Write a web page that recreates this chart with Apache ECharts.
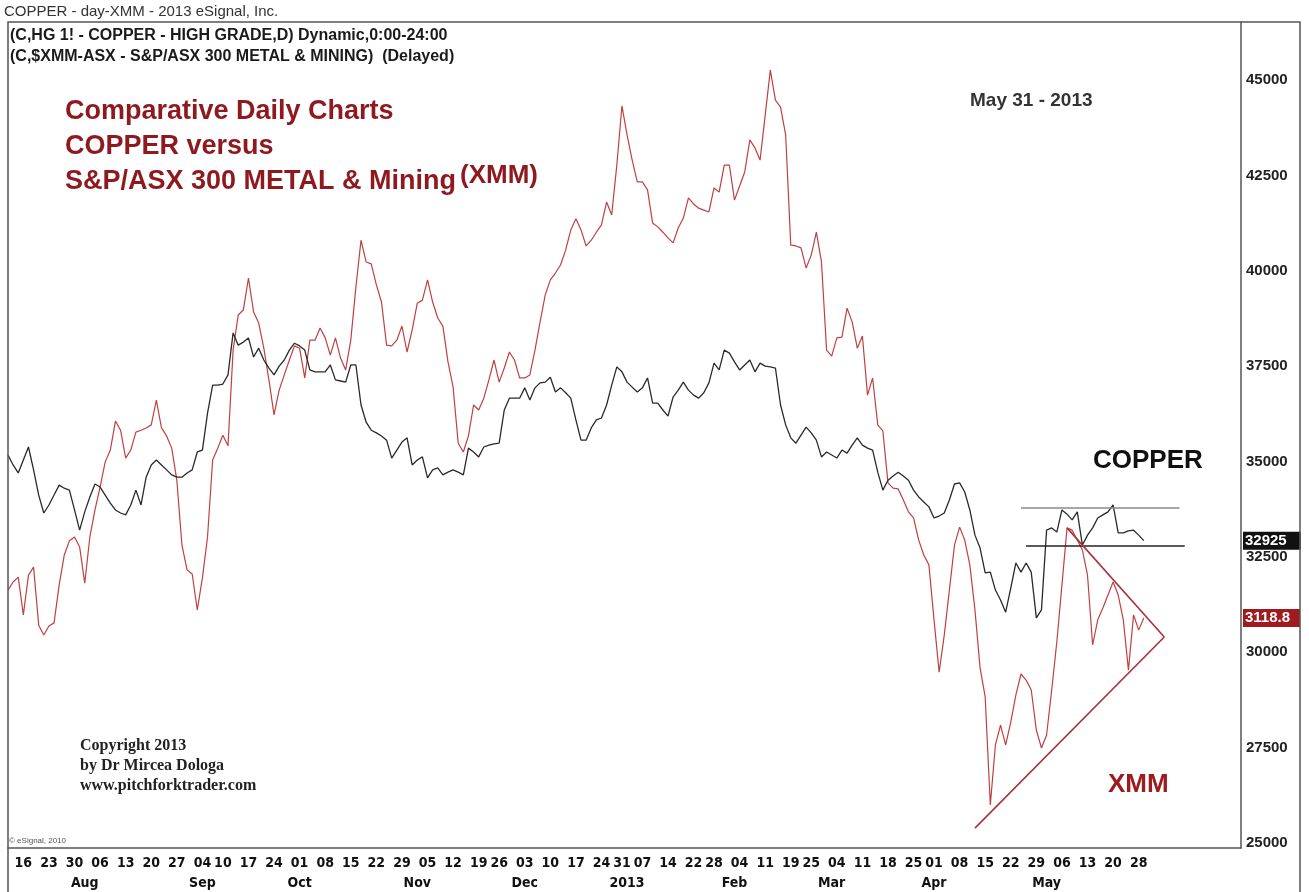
<!DOCTYPE html>
<html><head><meta charset="utf-8">
<script src="https://cdn.jsdelivr.net/npm/echarts@6/dist/echarts.min.js"></script>
<style>html,body{margin:0;padding:0;background:#fff}#c{width:1309px;height:892px}</style>
</head><body><div id="c"></div>
<script>
// ---- calendar ----
const startDate = '2012-07-11';
const totalDays = 242;
const holidays = ['2012-09-03','2012-11-22','2012-12-25','2013-01-01','2013-01-21','2013-02-18','2013-03-29','2013-05-27'];
// ---- tick labels ----
const dayTicks = ['2012-07-16','2012-07-23','2012-07-30','2012-08-06','2012-08-13','2012-08-20','2012-08-27','2012-09-04','2012-09-10','2012-09-17','2012-09-24','2012-10-01','2012-10-08','2012-10-15','2012-10-22','2012-10-29','2012-11-05','2012-11-12','2012-11-19','2012-11-26','2012-12-03','2012-12-10','2012-12-17','2012-12-24','2012-12-31','2013-01-07','2013-01-14','2013-01-22','2013-01-28','2013-02-04','2013-02-11','2013-02-19','2013-02-25','2013-03-04','2013-03-11','2013-03-18','2013-03-25','2013-04-01','2013-04-08','2013-04-15','2013-04-22','2013-04-29','2013-05-06','2013-05-13','2013-05-20','2013-05-28'];
const monthTickDates = ['2012-08-01','2012-09-04','2012-10-01','2012-11-01','2012-12-03','2013-01-02','2013-02-01','2013-03-01','2013-04-01','2013-05-01'];
const monthTickNames = ['Aug','Sep','Oct','Nov','Dec','2013','Feb','Mar','Apr','May'];
const yTicks = [25000,27500,30000,32500,35000,37500,40000,42500,45000];
// ---- series ----
const copper = [
35170,34910,34700,35040,35380,34780,34120,33650,33860,34120,
34380,34300,34250,33730,33200,33680,34070,34410,34330,34120,
33910,33730,33650,33600,33860,34250,33860,34590,34910,35040,
34910,34780,34650,34590,34590,34700,34780,35250,35300,36270,
37000,37000,37030,37270,38370,38050,38130,38240,37740,37970,
37660,37450,37270,37500,37660,37920,38100,38030,37920,37400,
37350,37350,37350,37530,37140,37110,37080,37530,37530,36480,
36030,35820,35750,35670,35560,35090,35300,35510,35620,34910,
35040,35120,34570,34780,34830,34650,34720,34780,34720,34650,
35350,35250,35120,35380,35430,35460,35480,36350,36660,36660,
36660,36930,36610,36930,37060,37080,37210,36820,36930,36800,
36660,36090,35560,35560,35880,36090,36140,36480,37000,37480,
37350,37080,36950,36820,36930,37190,36530,36530,36350,36190,
36690,36870,37080,36870,36740,36660,36800,37060,37580,37400,
37920,37840,37610,37400,37530,37660,37350,37580,37500,37480,
37450,36480,35960,35620,35480,35690,35900,35750,35560,35120,
35250,35170,35090,35300,35220,35430,35620,35430,35350,35300,
34720,34250,34510,34620,34720,34620,34510,34250,34070,33940,
33810,33520,33570,33650,33990,34410,34440,34200,33730,33070,
32730,32080,32100,31630,31370,31050,31680,32340,32100,32340,
32100,30900,31110,33200,33260,33150,33730,33620,33470,33680,
32810,33070,33260,33520,33600,33680,33860,33130,33130,33180,
33200,33070,32925];
const xmm = [
31630,31840,31970,30980,32020,32230,30710,30450,30690,30770,
31760,32550,32920,33020,32760,31810,33020,33730,34330,34990,
35300,36060,35820,35090,35300,35770,35820,35880,35960,36610,
35880,35670,35350,34510,32810,32160,32050,31110,31950,33020,
35040,35350,35690,35410,37920,38840,38970,39810,38920,38630,
37970,37140,36220,36870,37270,37660,38030,37970,37190,38180,
38180,38500,38240,37790,38240,37710,37400,38180,39570,40800,
40230,40180,39630,39180,38050,38030,38180,38550,37870,38450,
39150,39230,39760,39180,38760,38550,37610,36950,35480,35250,
35670,36480,36350,36660,37140,37660,37080,37450,37870,37660,
37190,37190,37270,37920,38660,39360,39760,39940,40150,40540,
41070,41360,41070,40650,40800,41010,41200,41800,41460,42770,
44320,43560,42900,42330,42330,42120,41250,41150,41010,40860,
40730,41120,41380,41910,41750,41640,41590,41540,42170,42060,
42770,42770,41850,42220,42590,43430,43220,42900,44080,45260,
44470,44290,43560,40670,40650,40600,40070,40410,41010,40230,
37920,37760,38240,38260,39020,38660,37970,38290,36740,37190,
35960,35800,34440,34300,34280,33990,33680,33520,32940,32550,
32290,30850,29480,30450,31630,32810,33280,32940,32290,31110,
29590,28830,26000,27570,28090,27570,28170,28880,29430,29270,
29010,27960,27490,27830,29010,30270,31760,33260,33200,32940,
32680,32020,30190,30850,31160,31500,31840,31500,30850,29530,
30980,30580,30900];
const copperLastLabel = '32925';
const xmmLastLabel = '3118.8';
// annotation lines in data units: [fromIndex, toIndex, level]
const copperBand = [[198, 229, 33780], [199, 230, 32785]];
// [x1Index, y1, x2Index, y2]
const xmmTriangle = [[207, 33260, 226, 30400], [189, 25390, 226, 30400]];

function buildDates() {
  const out = []; const d = new Date(startDate + 'T00:00:00Z');
  while (out.length < totalDays) {
    const dow = d.getUTCDay(); const s = d.toISOString().slice(0, 10);
    if (dow !== 0 && dow !== 6 && holidays.indexOf(s) < 0) out.push(s);
    d.setUTCDate(d.getUTCDate() + 1);
  }
  return out;
}
const dates = buildDates();

const chart = echarts.init(document.getElementById('c'), null, {renderer: 'canvas'});
const axisFont = '"DejaVu Sans Condensed","Liberation Sans Narrow","Liberation Sans",Arial,sans-serif';
const sans = '"Liberation Sans", Arial, sans-serif';
const T = (text, x, y, font, fill) => ({
  type: 'text', z: 100, silent: true,
  style: {text, x, y, font, fill, align: 'left', verticalAlign: 'middle', textAlign: 'left', textVerticalAlign: 'middle'}
});

const option = {
  animation: false,
  backgroundColor: '#fff',
  grid: {left: 8, right: 68, top: 22, bottom: 44, containLabel: false},
  xAxis: [{
    type: 'category', data: dates, boundaryGap: false,
    axisLine: {show: true, lineStyle: {color: '#555', width: 1.5}},
    axisTick: {show: false}, splitLine: {show: false},
    axisLabel: {
      interval: (i, v) => dayTicks.indexOf(v) >= 0,
      formatter: v => v.slice(8), margin: 8,
      fontFamily: axisFont, fontWeight: 'bold', fontSize: 14, color: '#111'
    }
  }, {
    type: 'category', data: dates, boundaryGap: false, position: 'bottom', offset: 20,
    axisLine: {show: false}, axisTick: {show: false}, splitLine: {show: false},
    axisLabel: {
      interval: (i, v) => monthTickDates.indexOf(v) >= 0,
      formatter: v => monthTickNames[monthTickDates.indexOf(v)], margin: 8,
      fontFamily: axisFont, fontWeight: 'bold', fontSize: 14, color: '#111'
    }
  }],
  yAxis: {
    type: 'value', position: 'right', min: 24869, max: 46520, scale: true,
    axisLine: {show: true, lineStyle: {color: '#555', width: 1.5}},
    axisTick: {show: false}, splitLine: {show: false},
    axisLabel: {customValues: yTicks, formatter: v => String(v), margin: 5, fontFamily: sans,
      fontWeight: 'bold', fontSize: 15, color: '#222'}
  },
  series: [{
    name: 'COPPER', type: 'line', data: copper, showSymbol: false, symbol: 'none',
    lineStyle: {color: '#2a2a2a', width: 1.3}, z: 3,
    markLine: {
      silent: true, symbol: ['none', 'none'], animation: false,
      data: copperBand.map((b, k) => [
        {coord: [b[0], b[2]], lineStyle: {color: k === 0 ? '#8a8a8a' : '#222', width: 1.6, type: 'solid'}, label: {show: false}},
        {coord: [b[1], b[2]]}
      ]).concat([{
        yAxis: copper[copper.length - 1],
        lineStyle: {color: 'rgba(0,0,0,0)', width: 0},
        label: {show: true, position: 'end', distance: 2, formatter: copperLastLabel,
          backgroundColor: '#111', color: '#fff', fontWeight: 'bold', fontSize: 15,
          fontFamily: sans, padding: [2, 14, 1, 2]}
      }])
    }
  }, {
    name: 'XMM', type: 'line', data: xmm, showSymbol: false, symbol: 'none',
    lineStyle: {color: '#c0403f', width: 1.2}, z: 2,
    markLine: {
      silent: true, symbol: ['none', 'none'], animation: false,
      data: xmmTriangle.map(t => [
        {coord: [t[0], t[1]], lineStyle: {color: '#a8323a', width: 1.6, type: 'solid'}, label: {show: false}},
        {coord: [t[2], t[3]]}
      ]).concat([{
        yAxis: xmm[xmm.length - 1],
        lineStyle: {color: 'rgba(0,0,0,0)', width: 0},
        label: {show: true, position: 'end', distance: 2, formatter: xmmLastLabel,
          backgroundColor: '#9e1b20', color: '#fff', fontWeight: 'bold', fontSize: 15,
          fontFamily: sans, padding: [2, 10, 1, 2]}
      }])
    }
  }],
  graphic: [
    {type: 'rect', silent: true, z: 90, shape: {x: 8, y: 22, width: 1292, height: 880},
      style: {fill: 'none', stroke: '#555', lineWidth: 1.5}},
    T('COPPER - day-XMM - 2013 eSignal, Inc.', 4, 12, '15px ' + sans, '#333'),
    T('(C,HG 1! - COPPER - HIGH GRADE,D) Dynamic,0:00-24:00', 10, 36, 'bold 16px ' + sans, '#1a1a1a'),
    T('(C,$XMM-ASX - S&P/ASX 300 METAL & MINING)  (Delayed)', 10, 57, 'bold 16px ' + sans, '#1a1a1a'),
    T('Comparative Daily Charts', 65, 112, 'bold 27px ' + sans, '#8e1a1f'),
    T('COPPER versus', 65, 147, 'bold 27px ' + sans, '#8e1a1f'),
    T('S&P/ASX 300 METAL & Mining', 65, 182, 'bold 27px ' + sans, '#8e1a1f'),
    T('(XMM)', 460, 176, 'bold 26px ' + sans, '#8e1a1f'),
    T('May 31 - 2013', 970, 101, 'bold 19px ' + sans, '#333'),
    T('COPPER', 1093, 461, 'bold 26px ' + sans, '#111'),
    T('XMM', 1108, 785, 'bold 26px ' + sans, '#9e1b20'),
    T('Copyright 2013', 80, 746, 'bold 16px "Liberation Serif", "Times New Roman", serif', '#222'),
    T('by Dr Mircea Dologa', 80, 766, 'bold 16px "Liberation Serif", "Times New Roman", serif', '#222'),
    T('www.pitchforktrader.com', 80, 786, 'bold 16px "Liberation Serif", "Times New Roman", serif', '#222'),
    T('© eSignal, 2010', 9, 841, '8px ' + sans, '#555')
  ]
};
chart.setOption(option);
</script>
</body></html>
